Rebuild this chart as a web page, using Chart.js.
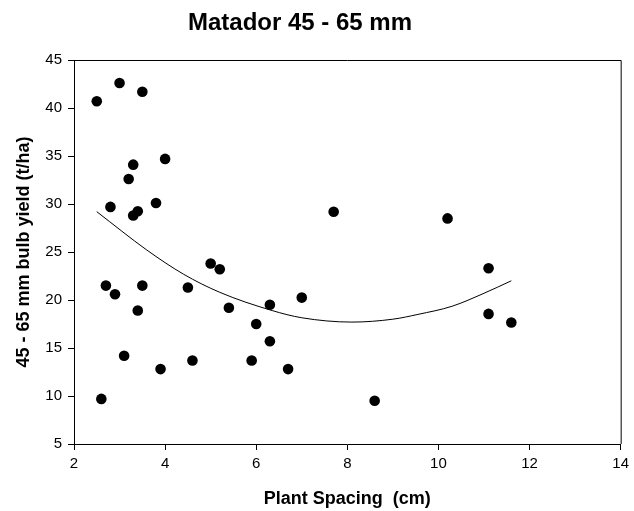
<!DOCTYPE html>
<html>
<head>
<meta charset="utf-8">
<script src="https://cdn.jsdelivr.net/npm/chart.js@4"></script>
<style>
  html, body { margin: 0; padding: 0; background: #fff; }
  #wrap { width: 634px; height: 511px; }
</style>
</head>
<body>
<div id="wrap"><canvas id="c" width="634" height="511"></canvas></div>
<script>
// plant spacing (cm) and 45 - 65 mm yield (t/ha)
const spacing = [2.5, 3.0, 3.5, 4.0, 3.3, 3.2, 2.8, 3.8, 3.3, 3.4,
                 2.7, 2.9, 3.1, 2.6, 3.4, 3.5, 3.9, 4.5, 4.6, 5.0, 5.2, 5.4,
                 7.7, 7.0, 6.3, 6.0, 6.3, 5.9, 6.7, 8.6,
                 10.2, 11.1, 11.1, 11.6];
const yieldVals = [40.7, 42.6, 41.7, 34.7, 34.1, 32.6, 29.7, 30.1, 28.8, 29.25,
                   21.5, 20.6, 14.2, 9.7, 18.9, 21.5, 12.8, 21.3, 13.7, 23.8, 23.2, 19.2,
                   29.2, 20.25, 19.5, 17.5, 15.7, 13.7, 12.8, 9.5,
                   28.5, 23.3, 18.55, 17.65];

// fitted curve, read at a few spots along the drawn line
const fitX = [2.5, 3.6, 4.4, 5.2, 6.35, 7.0, 8.1, 9.0, 9.55, 10.3, 11.0, 11.6];
const fitY = [29.2, 25.2, 22.7, 20.8, 18.9, 18.15, 17.7, 18.0, 18.5, 19.35, 20.7, 22.0];

const xTicks = [2, 4, 6, 8, 10, 12, 14];
const yTicks = [5, 10, 15, 20, 25, 30, 35, 40, 45];

const FONT = "Arial, 'Liberation Sans', sans-serif";

const pts = spacing.map((x, i) => ({ x: x, y: yieldVals[i] }));
const fit = fitX.map((x, i) => ({ x: x, y: fitY[i] }));

// box round the plot + title placed like the original
const framePlugin = {
    id: 'frame',
    afterDraw(chart) {
        const ctx = chart.ctx;
        const a = chart.chartArea;
        ctx.save();
        ctx.strokeStyle = '#000';
        ctx.lineWidth = 1;
        ctx.beginPath();
        ctx.moveTo(a.left, a.top + 0.5);
        ctx.lineTo(a.right + 0.5, a.top + 0.5);
        ctx.lineTo(a.right + 0.5, a.bottom);
        ctx.stroke();
        ctx.fillStyle = '#000';
        ctx.font = 'bold 24px ' + FONT;
        ctx.textAlign = 'center';
        ctx.textBaseline = 'middle';
        ctx.fillText('Matador 45 - 65 mm', 300, 23);
        ctx.restore();
    }
};

new Chart(document.getElementById('c').getContext('2d'), {
    type: 'scatter',
    data: {
        datasets: [
            {
                label: 'yield',
                data: pts,
                backgroundColor: '#000',
                borderWidth: 0,
                pointRadius: 5.3,
                pointHoverRadius: 5.3
            },
            {
                label: 'fit',
                data: fit,
                showLine: true,
                borderColor: '#000',
                borderWidth: 1,
                pointRadius: 0,
                cubicInterpolationMode: 'monotone',
                fill: false
            }
        ]
    },
    options: {
        responsive: false,
        animation: false,
        layout: {
            padding: { left: 0, right: 10, top: 60, bottom: 0 }
        },
        plugins: {
            legend: { display: false },
            tooltip: { enabled: false },
            title: { display: false }
        },
        scales: {
            x: {
                type: 'linear',
                min: 2,
                max: 14,
                afterBuildTicks: (s) => { s.ticks = xTicks.map(v => ({ value: v })); },
                afterFit: (s) => { s.height = 67; },
                ticks: {
                    color: '#000',
                    padding: 5,
                    font: { family: FONT, size: 15 }
                },
                grid: {
                    drawOnChartArea: false,
                    drawTicks: true,
                    tickLength: 6,
                    color: '#000'
                },
                border: { color: '#000', width: 1 },
                title: {
                    display: true,
                    text: 'Plant Spacing  (cm)',
                    color: '#000',
                    font: { family: FONT, size: 18, weight: 'bold' },
                    padding: { top: 0, bottom: 1 }
                }
            },
            y: {
                type: 'linear',
                min: 5,
                max: 45,
                afterBuildTicks: (s) => { s.ticks = yTicks.map(v => ({ value: v })); },
                afterFit: (s) => { s.width = 74; },
                ticks: {
                    color: '#000',
                    padding: 6,
                    font: { family: FONT, size: 15 }
                },
                grid: {
                    drawOnChartArea: false,
                    drawTicks: true,
                    tickLength: 6,
                    color: '#000'
                },
                border: { color: '#000', width: 1 },
                title: {
                    display: true,
                    text: '45 - 65 mm bulb yield (t/ha)',
                    color: '#000',
                    font: { family: FONT, size: 18, weight: 'bold' },
                    padding: { top: 13, bottom: 0 }
                }
            }
        }
    },
    plugins: [framePlugin]
});
</script>
</body>
</html>
